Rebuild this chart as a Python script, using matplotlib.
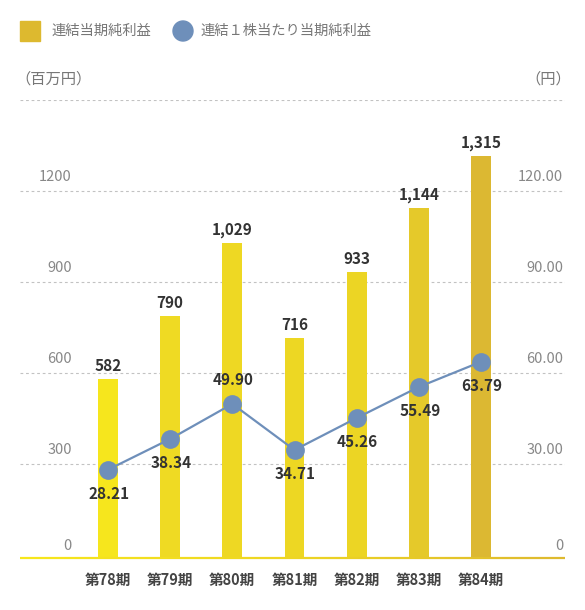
import matplotlib
matplotlib.use("Agg")
import matplotlib.pyplot as plt
import matplotlib.transforms as mtransforms
from matplotlib.collections import LineCollection
from matplotlib.patches import Rectangle, Ellipse
import numpy as np

plt.rcParams['font.family'] = ['Noto Sans CJK JP', 'DejaVu Sans']

categories = ["第78期", "第79期", "第80期", "第81期", "第82期", "第83期", "第84期"]
net_income = [582, 790, 1029, 716, 933, 1144, 1315]
eps = [28.21, 38.34, 49.90, 34.71, 45.26, 55.49, 63.79]
eps_labels = ["28.21", "38.34", "49.90", "34.71", "45.26", "55.49", "63.79"]
left_ticks = [0, 300, 600, 900, 1200]
right_ticks = [0, 30, 60, 90, 120]
right_tick_labels = ["0", "30.00", "60.00", "90.00", "120.00"]
grid_levels = [300, 600, 900, 1200, 1500]
legend_labels = ["連結当期純利益", "連結１株当たり当期純利益"]
left_unit = "（百万円）"
right_unit = "（円）"

bar_colors = ['#F6E61D', '#EFDA23', '#EED823', '#EDD723', '#ECD524', '#E5C92A', '#DCB832']
line_color = '#6E8FBA'

W, H = 585, 610
fig = plt.figure(figsize=(W / 100, H / 100), dpi=100)
fig.patch.set_facecolor('white')

ax_l, ax_r = 20 / W, 565 / W
ax_b, ax_t = (H - 558.3) / H, (H - 100.3) / H
ax = fig.add_axes([ax_l, ax_b, ax_r - ax_l, ax_t - ax_b])
ax2 = ax.twinx()

x = np.arange(len(categories))
ymin = -10
ax.set_xlim(-1.4155, 7.351)
ax.set_ylim(ymin, 1500)
ax2.set_ylim(ymin / 10, 150)

for a in (ax, ax2):
    for s in a.spines.values():
        s.set_visible(False)
    a.set_xticks([])
    a.set_yticks([])
    a.patch.set_visible(False)

# dashed gridlines
for g in grid_levels:
    ax.axhline(g, color='#C2C2C2', lw=0.8, ls=(0, (2.5, 2.5)), zorder=0)

# bars
ax.bar(x, [v - ymin for v in net_income], bottom=ymin, width=0.32,
       color=bar_colors, zorder=2)

# gradient baseline
n = 200
xs = np.linspace(0, 1, n + 1)
segs = [[(xs[i], 0), (xs[i + 1], 0)] for i in range(n)]
cmap = matplotlib.colors.LinearSegmentedColormap.from_list('g', ['#F7E71C', '#EDD523', '#DEB92F'])
lc = LineCollection(segs, colors=[cmap(v) for v in xs[:-1]], linewidths=1.6,
                    transform=ax.transAxes, zorder=3, clip_on=False)
ax.add_collection(lc)

# line with markers
ax2.plot(x, eps, color=line_color, lw=1.6, marker='o', markersize=13.5,
         markeredgewidth=0, zorder=4)

# bar value labels
for xi, v in zip(x, net_income):
    tr = mtransforms.offset_copy(ax.transData, fig=fig, x=0, y=13, units='dots')
    ax.text(xi, v, f"{v:,}", transform=tr, ha='center', va='center',
            fontsize=11, fontweight='bold', color='#333333', zorder=5)

# eps value labels
for xi, v, lab in zip(x, eps, eps_labels):
    up = lab == "49.90"
    dy = 24 if up else -24
    tr = mtransforms.offset_copy(ax2.transData, fig=fig, x=1, y=dy, units='dots')
    ax2.text(xi, v, lab, transform=tr, ha='center', va='center',
             fontsize=11, fontweight='bold', color='#333333', zorder=6)

# left tick labels
for t in left_ticks:
    off = 9 if t == 0 else 14
    tr = mtransforms.blended_transform_factory(ax.transAxes, ax.transData)
    tr = mtransforms.offset_copy(tr, fig=fig, x=0, y=off, units='dots')
    ax.text((72 - 20) / 545, t, f"{t}", transform=tr, ha='right', va='center',
            fontsize=10.5, color='#888888')

# right tick labels
for t, lab in zip(right_ticks, right_tick_labels):
    off = 9 if t == 0 else 14
    tr = mtransforms.blended_transform_factory(ax2.transAxes, ax2.transData)
    tr = mtransforms.offset_copy(tr, fig=fig, x=0, y=off, units='dots')
    ax2.text((563 - 20) / 545, t, lab, transform=tr, ha='right', va='center',
             fontsize=10.5, color='#888888')

# category labels
for xi, c in zip(x, categories):
    tr = mtransforms.blended_transform_factory(ax.transData, fig.transFigure)
    ax.text(xi, (H - 580) / H, c, transform=tr, ha='center', va='center',
            fontsize=10.5, fontweight='bold', color='#444444')

# units
fig.text(15 / W, (H - 79) / H, left_unit, ha='left', va='center', fontsize=11, color='#777777')
fig.text(571 / W, (H - 79) / H, right_unit, ha='right', va='center', fontsize=11, color='#777777')

# legend
fig.patches.append(Rectangle((20 / W, (H - 41) / H), 20 / W, 20 / H, transform=fig.transFigure,
                             color='#DDB92F', figure=fig))
fig.patches.append(Ellipse((183 / W, (H - 31) / H), 20 / W, 20 / H,
                           transform=fig.transFigure, color=line_color, figure=fig))
fig.text(51 / W, (H - 31) / H, legend_labels[0], ha='left', va='center', fontsize=10.3, color='#777777')
fig.text(200 / W, (H - 31) / H, legend_labels[1], ha='left', va='center', fontsize=10.3, color='#777777')

fig.savefig("out.png", dpi=100, facecolor='white')
